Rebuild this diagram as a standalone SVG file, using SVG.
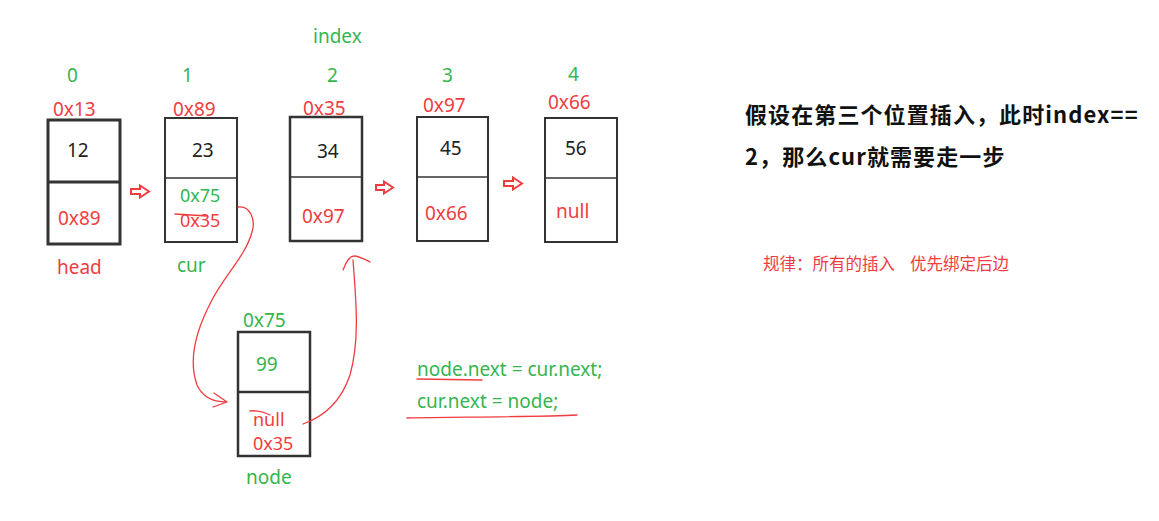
<svg xmlns="http://www.w3.org/2000/svg" width="1159" height="521" viewBox="0 0 1159 521">
<style>
text{font-family:"Noto Sans","Noto Sans CJK SC",sans-serif;font-size:19px}
.r{fill:#f03c3f}
.g{fill:#35b54e}
.k{fill:#222}
.s{font-size:18px}
.box{fill:#fff;stroke:#333;stroke-width:2}
.div{stroke:#333;stroke-width:1.6}
.ink{fill:none;stroke:#f03c3f;stroke-width:1.3;stroke-linecap:round;stroke-linejoin:round}
.ha{fill:#fff;stroke:#f03c3f;stroke-width:2}
.cn{font-family:"Noto Sans CJK SC","Noto Sans",sans-serif}
.big{font-size:22px;font-weight:bold;fill:#111;letter-spacing:1.1px}
</style>
<rect width="1159" height="521" fill="#fff"/>
<g id="labels">
<text class="g" x="313" y="43">index</text>
<text class="g" x="67" y="82">0</text>
<text class="g" x="182" y="82">1</text>
<text class="g" x="327" y="82">2</text>
<text class="g" x="442" y="82">3</text>
<text class="g" x="568" y="81">4</text>
</g>
<g id="node0">
<text class="r" x="53" y="116">0x13</text>
<rect class="box" x="48" y="120" width="72" height="124" style="stroke-width:3"/>
<line class="div" x1="48" y1="182" x2="120" y2="182" style="stroke-width:3"/>
<text class="k" x="67" y="157">12</text>
<text class="r" x="58" y="225">0x89</text>
<text class="r" x="57" y="274">head</text>
</g>
<g id="node1">
<text class="r" x="173" y="116">0x89</text>
<rect class="box" x="165" y="118" width="72" height="124"/>
<line class="div" x1="165" y1="178" x2="237" y2="178"/>
<text class="k" x="192" y="157">23</text>
<text class="g s" x="180" y="202">0x75</text>
<text class="r s" x="180" y="227">0x35</text>
<path class="ink" d="M175,214 L207,216"/>
<text class="g" x="177" y="272">cur</text>
</g>
<g id="node2">
<text class="r" x="303" y="115">0x35</text>
<rect class="box" x="290" y="117" width="72" height="124" style="stroke-width:2.5"/>
<line class="div" x1="290" y1="177" x2="362" y2="177"/>
<text class="k" x="317" y="158">34</text>
<text class="r" x="302" y="223">0x97</text>
</g>
<g id="node3">
<text class="r" x="423" y="112">0x97</text>
<rect class="box" x="417" y="117" width="71" height="124"/>
<line class="div" x1="417" y1="177" x2="488" y2="177"/>
<text class="k" x="440" y="155">45</text>
<text class="r" x="425" y="220">0x66</text>
</g>
<g id="node4">
<text class="r" x="548" y="109">0x66</text>
<rect class="box" x="545" y="118" width="72" height="124"/>
<line class="div" x1="545" y1="178" x2="617" y2="178"/>
<text class="k" x="565" y="155">56</text>
<text class="r" x="556" y="218">null</text>
</g>
<g id="newnode">
<text class="g" x="243" y="327">0x75</text>
<rect class="box" x="238" y="332" width="72" height="124" style="stroke-width:2.5"/>
<line class="div" x1="238" y1="392" x2="310" y2="392" style="stroke-width:2.5"/>
<text class="g" x="256" y="371">99</text>
<text class="r s" x="253" y="426">null</text>
<path class="ink" d="M250,411 C258,410 264,412 270,415"/>
<text class="r s" x="253" y="450">0x35</text>
<text class="g" x="246" y="484">node</text>
</g>
<g id="connectors">
<path class="ha" d="M131,189 h9 v-3.5 l9,6 -9,6 v-3.5 h-9 z"/>
<path class="ha" d="M376,185 h8 v-3.5 l9,6 -9,6 v-3.5 h-8 z"/>
<path class="ha" d="M504,181 h9 v-3.5 l9,6 -9,6 v-3.5 h-9 z"/>
<path class="ink" d="M238,207 C250,205 256,220 252,232 C246,255 225,275 212,300 C196,330 188,360 197,385 C203,398 215,402 226,402"/>
<path class="ink" d="M214,393 L227,402 L213,407"/>
<path class="ink" d="M303,424 C320,418 340,405 350,375 C360,340 356,300 353,260"/>
<path class="ink" d="M343,270 C346,262 350,256 354,256 C359,256 364,259 370,262"/>
</g>
<g id="code">
<text class="g" x="417" y="376">node.next = cur.next;</text>
<text class="g" x="417" y="408">cur.next = node;</text>
<path class="ink" d="M417,379 L482,380"/>
<path class="ink" d="M407,418 C460,417 540,417 577,415"/>
</g>
<g id="notes">
<text class="cn big" x="745" y="123">假设在第三个位置插入，此时index==</text>
<text class="cn big" x="745" y="165">2，那么cur就需要走一步</text>
<text class="cn r" x="763" y="270" style="font-size:16.5px">规律：所有的插入 <tspan x="910">优先绑定后边</tspan></text>
</g>
</svg>
